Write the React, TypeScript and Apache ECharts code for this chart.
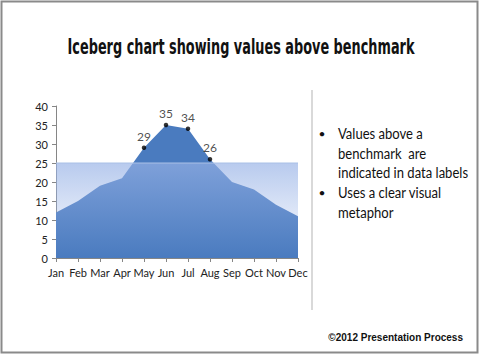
import React, { useEffect, useRef } from "react";
import * as echarts from "echarts";

const months = ["Jan", "Feb", "Mar", "Apr", "May", "Jun", "Jul", "Aug", "Sep", "Oct", "Nov", "Dec"];
const values = [12, 15, 19, 21, 29, 35, 34, 26, 20, 18, 14, 11];
const benchmark = 25;
const yMin = 0;
const yMax = 40;
const yStep = 5;
const titleText = "Iceberg chart showing values above benchmark";
const bulletLines = [
  ["Values above a", "benchmark  are", "indicated in data labels"],
  ["Uses a clear visual", "metaphor"],
];
const footerText = "\u00a92012 Presentation Process";

export default function App() {
  const ref = useRef<HTMLDivElement>(null);
  useEffect(() => {
    if (!ref.current) return;
    const chart = echarts.init(ref.current, null, { renderer: "svg" });
    const bodyFont = "Lato, 'Open Sans', sans-serif";
    const graphics: any[] = [];
    graphics.push({
      type: "rect",
      shape: { x: 1.5, y: 1.5, width: 476, height: 351 },
      style: { fill: "none", stroke: "#8a8a8a", lineWidth: 2 },
      silent: true,
    });
    graphics.push({
      type: "text",
      x: 241,
      y: 46,
      scaleX: 0.65,
      style: {
        text: titleText,
        font: "bold 22px 'Liberation Sans Narrow', 'DejaVu Sans Condensed', sans-serif",
        fill: "#111",
        align: "center",
        verticalAlign: "middle",
      },
    });
    graphics.push({
      type: "line",
      shape: { x1: 312, y1: 90, x2: 312, y2: 310 },
      style: { stroke: "#d9d9d9", lineWidth: 2 },
    });
    let y = 133;
    bulletLines.forEach((group) => {
      graphics.push({
        type: "text",
        x: 322,
        y,
        style: { text: "\u2022", font: `12px ${bodyFont}`, fill: "#111", align: "center", verticalAlign: "middle" },
      });
      group.forEach((line) => {
        graphics.push({
          type: "text",
          x: 338,
          y,
          scaleX: 0.87,
          style: { text: line, font: `15px ${bodyFont}`, fill: "#111", align: "left", verticalAlign: "middle" },
        });
        y += 19.8;
      });
    });
    graphics.push({
      type: "text",
      x: 463,
      y: 337,
      style: {
        text: footerText,
        font: "bold 10px 'Liberation Sans', Arial, sans-serif",
        fill: "#111",
        align: "right",
        verticalAlign: "middle",
      },
    });

    chart.setOption({
      animation: false,
      backgroundColor: "#ffffff",
      grid: { left: 56, right: 182, top: 106, bottom: 99, containLabel: false },
      xAxis: {
        type: "category",
        data: months,
        boundaryGap: false,
        axisLine: { lineStyle: { color: "#868686" } },
        axisTick: { show: true, length: 4, lineStyle: { color: "#868686" } },
        axisLabel: { color: "#222", fontSize: 11, fontFamily: bodyFont, margin: 9, interval: 0 },
        splitLine: { show: false },
      },
      yAxis: {
        type: "value",
        min: yMin,
        max: yMax,
        interval: yStep,
        axisLine: { show: true, lineStyle: { color: "#868686" } },
        axisTick: { show: true, length: 4, lineStyle: { color: "#868686" } },
        axisLabel: { color: "#222", fontSize: 11, fontFamily: bodyFont, margin: 8 },
        splitLine: { show: false },
      },
      series: [
        {
          type: "line",
          data: values,
          symbol: "none",
          z: 2,
          lineStyle: { width: 0 },
          areaStyle: { color: "#4a7bbf", opacity: 1 },
        },
        {
          type: "line",
          data: months.map(() => benchmark),
          symbol: "none",
          z: 3,
          lineStyle: { width: 1, color: "#a9c0e6" },
          areaStyle: {
            opacity: 1,
            color: new echarts.graphic.LinearGradient(0, 0, 0, 1, [
              { offset: 0, color: "rgba(151,178,230,0.68)" },
              { offset: 1, color: "rgba(151,178,230,0)" },
            ]),
          },
        },
        {
          type: "scatter",
          data: values.map((v) => (v > benchmark ? v : null)),
          symbol: "circle",
          symbolSize: 4.5,
          z: 5,
          itemStyle: { color: "#000" },
          label: {
            show: true,
            position: "top",
            distance: 3,
            color: "#222",
            fontSize: 12,
            fontFamily: bodyFont,
          },
        },
      ],
      graphic: graphics,
    });
    return () => chart.dispose();
  }, []);
  return <div ref={ref} style={{ position: "fixed", left: 0, top: 0, width: 480, height: 357 }} />;
}
